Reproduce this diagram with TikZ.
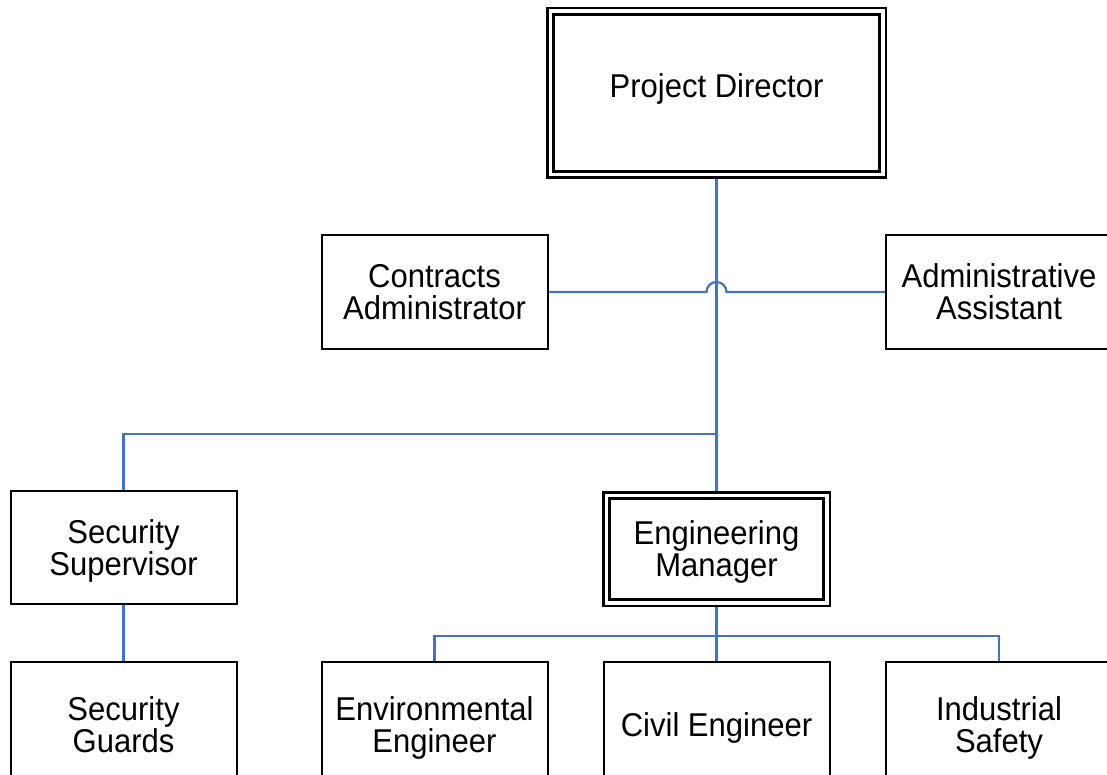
\documentclass[tikz,border=0pt]{standalone}
\usepackage{fontspec}
\setmainfont{Liberation Sans}[FakeStretch=0.94]
\usetikzlibrary{calc}
\definecolor{linkblue}{RGB}{68,114,196}
\begin{document}
\begin{tikzpicture}[x=1pt,y=-1pt,
  box/.style={draw=black, line width=2pt, fill=white, inner sep=0pt,
    minimum width=226pt, minimum height=113pt, align=center, text depth=0pt,
    font=\fontsize{33}{32}\selectfont},
  dbox/.style={box, double, double distance=3.5pt, line width=2.6pt, outer sep=4.3pt},
  conn/.style={draw=linkblue, line width=2.2pt}]
\path[use as bounding box, clip] (0,0) rectangle (1107,775);
% nodes
\node[dbox, minimum width=332.5pt, minimum height=163.5pt, text depth=14pt] (PD) at (716.5,93) {Project Director};
\node[box] (CA) at (434.5,292) {Contracts\\Administrator};
\node[box] (AA) at (999,292) {Administrative\\Assistant};
\node[box] (SS) at (123.5,547.5) {Security\\Supervisor};
\node[dbox, minimum width=220.5pt, minimum height=107.5pt] (EM) at (716.5,549) {Engineering\\Manager};
\node[box, minimum height=126pt] (SG) at (123.5,725) {Security\\Guards};
\node[box, minimum height=126pt] (EE) at (434.5,725) {Environmental\\Engineer};
\node[box, minimum height=126pt] (CE) at (716.5,725) {Civil Engineer};
\node[box, minimum height=126pt] (IS) at (999,725) {Industrial\\Safety};
% connectors
\coordinate (J) at (PD.south |- CA.east);
\coordinate (B1) at (716.5,434);
\coordinate (B2) at (716.5,636);
\draw[conn] (PD.south) -- (EM.north);
\draw[conn] (CA.east) -- ([xshift=-10pt]J) arc[start angle=180,end angle=0,radius=10pt] -- (AA.west);
\draw[conn] (SS.north) |- (B1);
\draw[conn] (SS.south) -- (SG.north);
\draw[conn] (EM.south) -- (CE.north);
\draw[conn] (EE.north) |- (B2) -| (IS.north);
\end{tikzpicture}
\end{document}
